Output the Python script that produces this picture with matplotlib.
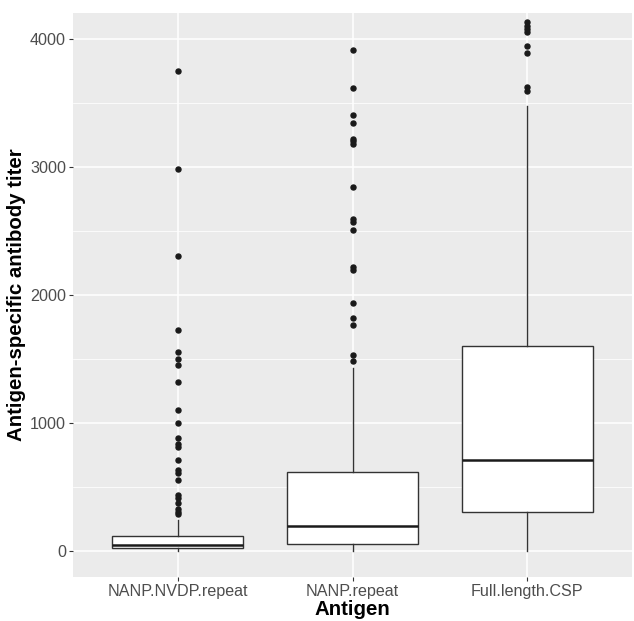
import matplotlib
matplotlib.use("Agg")
import matplotlib.pyplot as plt
from matplotlib.ticker import MultipleLocator

plt.rcParams['font.family'] = ['Liberation Sans', 'DejaVu Sans']

antigens = ["NANP.NVDP.repeat", "NANP.repeat", "Full.length.CSP"]

# box statistics
whislo = [0, 0, 0]
q1 = [23, 56, 307]
med = [46, 200, 715]
q3 = [120, 620, 1602]
whishi = [245, 1430, 3478]

fliers_nvdp = [3750, 2985, 2303, 1725, 1552, 1503, 1454, 1321, 1104, 1003,
               887, 838, 815, 714, 636, 613, 555, 439, 419, 376, 332, 309, 289]
fliers_nanp = [3916, 3621, 3408, 3344, 3223, 3202, 3179, 2844, 2592, 2572,
               2509, 2217, 2197, 1942, 1821, 1763, 1532, 1488]
fliers_csp = [4130, 4104, 4078, 4055, 3948, 3890, 3625, 3591]
fliers = [fliers_nvdp, fliers_nanp, fliers_csp]

stats = []
for i, name in enumerate(antigens):
    stats.append(dict(label=name, whislo=whislo[i], q1=q1[i], med=med[i],
                      q3=q3[i], whishi=whishi[i], fliers=fliers[i]))

fig = plt.figure(figsize=(6.34, 6.21), dpi=100)
ax = fig.add_axes([0.115, 0.071, 0.882, 0.908])
ax.set_facecolor('#EBEBEB')

ax.bxp(stats, positions=[1, 2, 3], widths=0.75, patch_artist=True,
       showcaps=False,
       boxprops=dict(facecolor='white', edgecolor='#333333', linewidth=1.0),
       whiskerprops=dict(color='#333333', linewidth=1.0),
       medianprops=dict(color='#1a1a1a', linewidth=1.8),
       flierprops=dict(marker='o', markersize=3.6, markerfacecolor='#1a1a1a',
                       markeredgecolor='#1a1a1a', linestyle='none'))

ax.set_xlim(0.4, 3.6)
ax.set_ylim(-201, 4203)
ax.yaxis.set_major_locator(MultipleLocator(1000))
ax.yaxis.set_minor_locator(MultipleLocator(500))
ax.set_xticks([1, 2, 3])
ax.set_xticklabels(antigens)

ax.grid(True, which='major', color='white', linewidth=1.1)
ax.grid(True, which='minor', axis='y', color='white', linewidth=0.55)
ax.set_axisbelow(True)
for s in ax.spines.values():
    s.set_visible(False)

ax.tick_params(which='major', length=3, color='#333333', labelcolor='#4D4D4D',
               labelsize=11.6, pad=2)
ax.tick_params(which='minor', length=0)

ax.set_xlabel('Antigen', fontsize=14.7, fontweight='bold', labelpad=1)
ax.set_ylabel('Antigen-specific antibody titer', fontsize=14.7,
              fontweight='bold', labelpad=3)

fig.savefig('out.png', dpi=100)
